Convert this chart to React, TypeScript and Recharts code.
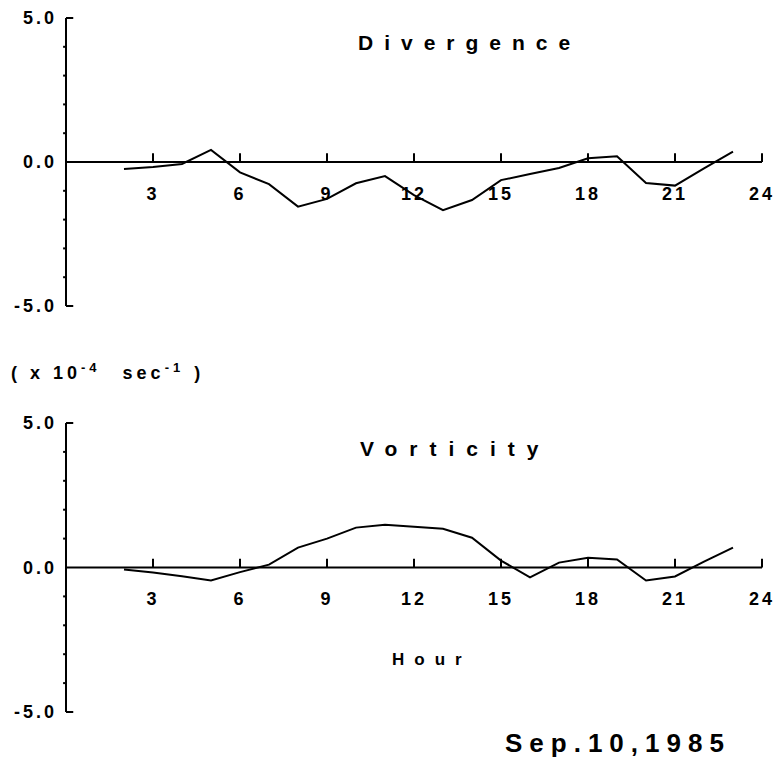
import { LineChart, Line, XAxis, YAxis, ReferenceLine } from 'recharts'

const hours = [2, 3, 4, 5, 6, 7, 8, 9, 10, 11, 12, 13, 14, 15, 16, 17, 18, 19, 20, 21, 22, 23]
const divergence = [-0.24, -0.17, -0.07, 0.42, -0.36, -0.77, -1.55, -1.28, -0.74, -0.49, -1.15, -1.67, -1.32, -0.63, -0.42, -0.21, 0.13, 0.2, -0.73, -0.82, -0.22, 0.36]
const vorticity = [-0.07, -0.17, -0.3, -0.45, -0.16, 0.1, 0.69, 1.0, 1.38, 1.48, 1.41, 1.34, 1.03, 0.24, -0.34, 0.17, 0.34, 0.28, -0.45, -0.31, 0.2, 0.69]
const hourTicks = [3, 6, 9, 12, 15, 18, 21, 24]
const capValues = [-5, 5]
const minorValues = [-4, -3, -2, -1, 1, 2, 3, 4]

const font = '"Liberation Sans", Arial, sans-serif'
const labelFont = { fill: '#000', fontSize: 18, fontWeight: 'bold', fontFamily: font, letterSpacing: 3 }

function Panel({ values, top, height, marginTop, marginBottom }) {
    const data = hours.map((h, i) => ({ hour: h, value: values[i] }))
    return (
        <div style={{ position: 'absolute', left: 0, top }}>
            <LineChart
                width={782}
                height={height}
                data={data}
                margin={{ top: marginTop, right: 20, bottom: marginBottom, left: 6 }}
            >
                <XAxis type="number" dataKey="hour" domain={[0, 24]} hide />
                <YAxis
                    type="number"
                    domain={[-5, 5]}
                    width={60}
                    tick={false}
                    tickLine={false}
                    axisLine={{ stroke: '#000', strokeWidth: 2 }}
                />
                <ReferenceLine y={0} stroke="#000" strokeWidth={2} label={{ value: '0.0', position: 'left', offset: 9, ...labelFont }} />
                {minorValues.map((v) => (
                    <ReferenceLine key={'m' + v} segment={[{ x: -0.1, y: v }, { x: 0, y: v }]} ifOverflow="visible" stroke="#000" strokeWidth={2} />
                ))}
                {capValues.map((v) => (
                    <ReferenceLine
                        key={'c' + v}
                        segment={[{ x: 0, y: v }, { x: 0.25, y: v }]}
                        ifOverflow="visible"
                        stroke="#000"
                        strokeWidth={2}
                        label={{ value: v.toFixed(1), position: 'left', offset: 9, ...labelFont }}
                    />
                ))}
                {hourTicks.map((t) => (
                    <ReferenceLine
                        key={'t' + t}
                        segment={[{ x: t, y: 0 }, { x: t, y: 0.3 }]}
                        ifOverflow="visible"
                        stroke="#000"
                        strokeWidth={2}
                        label={{ value: String(t), position: 'bottom', offset: 25, ...labelFont }}
                    />
                ))}
                <Line type="linear" dataKey="value" stroke="#000" strokeWidth={2} dot={false} isAnimationActive={false} />
            </LineChart>
        </div>
    )
}

const txt = (left, top, size, spacing) => ({
    position: 'absolute' as const,
    left,
    top,
    fontFamily: font,
    fontWeight: 'bold' as const,
    fontSize: size,
    letterSpacing: spacing,
    lineHeight: 1,
    whiteSpace: 'nowrap' as const,
    color: '#000',
})

const sup = { fontSize: 13, verticalAlign: 7 }

export default function App() {
    return (
        <div style={{ position: 'absolute', left: 0, top: 0, width: 782, height: 759, background: '#fff' }}>
            <Panel values={divergence} top={0} height={330} marginTop={18} marginBottom={24} />
            <Panel values={vorticity} top={400} height={340} marginTop={23} marginBottom={28} />
            <div style={txt(358, 32, 21, 11)}>Divergence</div>
            <div style={txt(360, 438, 21, 12)}>Vorticity</div>
            <div style={txt(11, 361, 18, 4)}>
                ( x 10<span style={sup}>-4</span>
                <span style={{ marginLeft: 22 }}>sec</span>
                <span style={sup}>-1</span>
                <span style={{ marginLeft: 10 }}>)</span>
            </div>
            <div style={txt(392, 651, 17, 10)}>Hour</div>
            <div style={txt(505, 730, 26, 7)}>Sep.10,1985</div>
        </div>
    )
}
